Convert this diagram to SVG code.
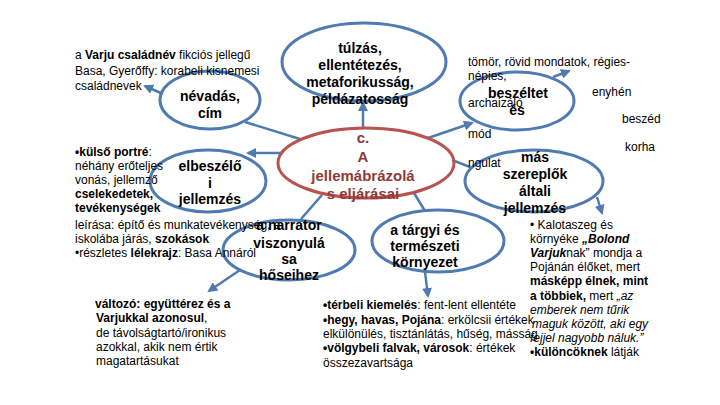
<svg xmlns="http://www.w3.org/2000/svg" width="720" height="405" viewBox="0 0 720 405">
<defs>
<marker id="arr" viewBox="0 0 10 10" refX="8" refY="5" markerWidth="4" markerHeight="4" orient="auto">
<path d="M0,0 L10,5 L0,10 z" fill="#4f7bb0"/>
</marker>
<style>
.t{font-family:"Liberation Sans",Arial,sans-serif;font-size:12px;fill:#000}
.b{font-weight:bold}
.i{font-style:italic}
.lbl{font-family:"Liberation Sans",Arial,sans-serif;font-size:14px;font-weight:bold;fill:#000;text-anchor:middle}
.red{font-family:"Liberation Sans",Arial,sans-serif;font-size:15px;font-weight:bold;fill:#8e3a38;text-anchor:middle}
.ell{fill:none;stroke:#4f7bb0;stroke-width:3}
.ellr{fill:none;stroke:#b85450;stroke-width:3}
.con{fill:none;stroke:#4f7bb0;stroke-width:2.5}
</style>
</defs>
<rect width="720" height="405" fill="#fff"/>

<g id="connectors">
<line class="con" x1="163" y1="94" x2="145" y2="86" marker-end="url(#arr)"/>
<line class="con" x1="245" y1="122" x2="300" y2="139"/>
<line class="con" x1="363" y1="128" x2="363" y2="103" marker-end="url(#arr)"/>
<line class="con" x1="428" y1="138" x2="472" y2="123" marker-end="url(#arr)"/>
<line class="con" x1="553" y1="77" x2="569" y2="71" marker-end="url(#arr)"/>
<line class="con" x1="283" y1="153" x2="248" y2="153" marker-end="url(#arr)"/>
<line class="con" x1="322" y1="195" x2="301" y2="219"/>
<line class="con" x1="240" y1="270" x2="209" y2="291" marker-end="url(#arr)"/>
<line class="con" x1="414" y1="193" x2="425" y2="211"/>
<line class="con" x1="425" y1="272" x2="428" y2="296" marker-end="url(#arr)"/>
<line class="con" x1="452" y1="160" x2="470" y2="167"/>
<line class="con" x1="597" y1="197" x2="602" y2="213" marker-end="url(#arr)"/>
</g>

<g id="n-nevadas">
<ellipse class="ell" cx="210" cy="100" rx="50" ry="29"/>
<text class="lbl" x="210" y="101">névadás,</text>
<text class="lbl" x="210" y="118">cím</text>
</g>

<g id="n-tulzas">
<ellipse class="ell" cx="364" cy="62" rx="82" ry="39"/>
<text class="lbl" x="360" y="53">túlzás,</text>
<text class="lbl" x="360" y="70">ellentétezés,</text>
<text class="lbl" x="360" y="87">metaforikusság,</text>
<text class="lbl" x="360" y="104">példázatosság</text>
</g>

<g id="n-beszeltet">
<ellipse class="ell" cx="517" cy="101" rx="57" ry="29"/>
<text class="lbl" x="518" y="98">beszéltet</text>
<text class="lbl" x="517" y="115">és</text>
</g>

<g id="n-elbeszelo">
<ellipse class="ell" cx="208" cy="181" rx="58" ry="31"/>
<text class="lbl" x="210" y="171">elbeszélő</text>
<text class="lbl" x="210" y="188">i</text>
<text class="lbl" x="210" y="204">jellemzés</text>
</g>

<g id="n-center">
<ellipse class="ellr" cx="366" cy="163" rx="88" ry="35"/>
<text class="red" x="363" y="143">c.</text>
<text class="red" x="363" y="162">A</text>
<text class="red" x="363" y="181">jellemábrázolá</text>
<text class="red" x="363" y="199">s eljárásai</text>
</g>

<g id="n-mas">
<ellipse class="ell" cx="534" cy="181" rx="69" ry="31"/>
<text class="lbl" x="535" y="162">más</text>
<text class="lbl" x="535" y="179">szereplők</text>
<text class="lbl" x="535" y="196">általi</text>
<text class="lbl" x="535" y="213">jellemzés</text>
</g>

<g id="n-narrator">
<ellipse class="ell" cx="289" cy="250" rx="66" ry="30"/>
<text class="lbl" x="289" y="230">a narrator</text>
<text class="lbl" x="289" y="248">viszonyulá</text>
<text class="lbl" x="289" y="264">sa</text>
<text class="lbl" x="289" y="280">hőseihez</text>
</g>

<g id="n-targyi">
<ellipse class="ell" cx="438" cy="241" rx="66" ry="31"/>
<text class="lbl" x="425" y="235">a tárgyi és</text>
<text class="lbl" x="425" y="251">természeti</text>
<text class="lbl" x="425" y="267">környezet</text>
</g>

<g id="texts">
<text class="t" x="75" y="59">a <tspan class="b">Varju családnév</tspan> fikciós jellegű</text>
<text class="t" x="75" y="75">Basa, Gyerőffy: korabeli kisnemesi</text>
<text class="t" x="75" y="90">családnevek</text>

<text class="t" x="468" y="66">tömör, rövid mondatok, régies-</text>
<text class="t" x="468" y="80">népies,</text>
<text class="t" x="468" y="107">archaizáló</text>
<text class="t" x="592" y="96">enyhén</text>
<text class="t" x="622" y="123">beszéd</text>
<text class="t" x="468" y="138">mód</text>
<text class="t" x="625" y="151">korha</text>
<text class="t" x="468" y="167">ngulat</text>

<text class="t" x="75" y="156"><tspan class="b">•külső portré</tspan>:</text>
<text class="t" x="75" y="170">néhány erőteljes</text>
<text class="t" x="75" y="184">vonás, jellemző</text>
<text class="t b" x="75" y="198">cselekedetek,</text>
<text class="t b" x="75" y="212">tevékenységek</text>
<text class="t" x="75" y="229">leírása: építő és munkatevékenység, a</text>
<text class="t" x="75" y="243">iskolába járás, <tspan class="b">szokások</tspan></text>
<text class="t" x="75" y="257">•részletes <tspan class="b">lélekrajz</tspan>: Basa Annáról</text>

<text class="t b" x="95" y="308">változó: együttérez és a</text>
<text class="t" x="96" y="322"><tspan class="b">Varjukkal azonosul</tspan>,</text>
<text class="t" x="96" y="337">de távolságtartó/ironikus</text>
<text class="t" x="96" y="351">azokkal, akik nem értik</text>
<text class="t" x="96" y="365">magatartásukat</text>

<text class="t" x="323" y="309"><tspan class="b">•térbeli kiemelés</tspan>: fent-lent ellentéte</text>
<text class="t" x="323" y="324"><tspan class="b">•hegy, havas, Pojána</tspan>: erkölcsii értékek</text>
<text class="t" x="323" y="338">elkülönülés, tisztánlátás, hűség, másság</text>
<text class="t" x="323" y="352"><tspan class="b">•völgybeli falvak, városok</tspan>: értékek</text>
<text class="t" x="323" y="367">összezavartsága</text>

<text class="t" x="530" y="229">• Kalotaszeg és</text>
<text class="t" x="530" y="243">környéke <tspan class="b i">„Bolond</tspan></text>
<text class="t" x="530" y="257"><tspan class="b i">Varjuk</tspan>nak” mondja  a</text>
<text class="t" x="530" y="271">Pojánán élőket, mert</text>
<text class="t b" x="530" y="285">másképp élnek, mint</text>
<text class="t" x="530" y="300"><tspan class="b">a többiek,</tspan> mert <tspan class="i">„az</tspan></text>
<text class="t i" x="530" y="314">emberek nem tűrik</text>
<text class="t i" x="532" y="328">maguk között, aki egy</text>
<text class="t i" x="530" y="342">fejjel nagyobb náluk.”</text>
<text class="t" x="530" y="356"><tspan class="b">•különcöknek</tspan> látják</text>
</g>
</svg>
